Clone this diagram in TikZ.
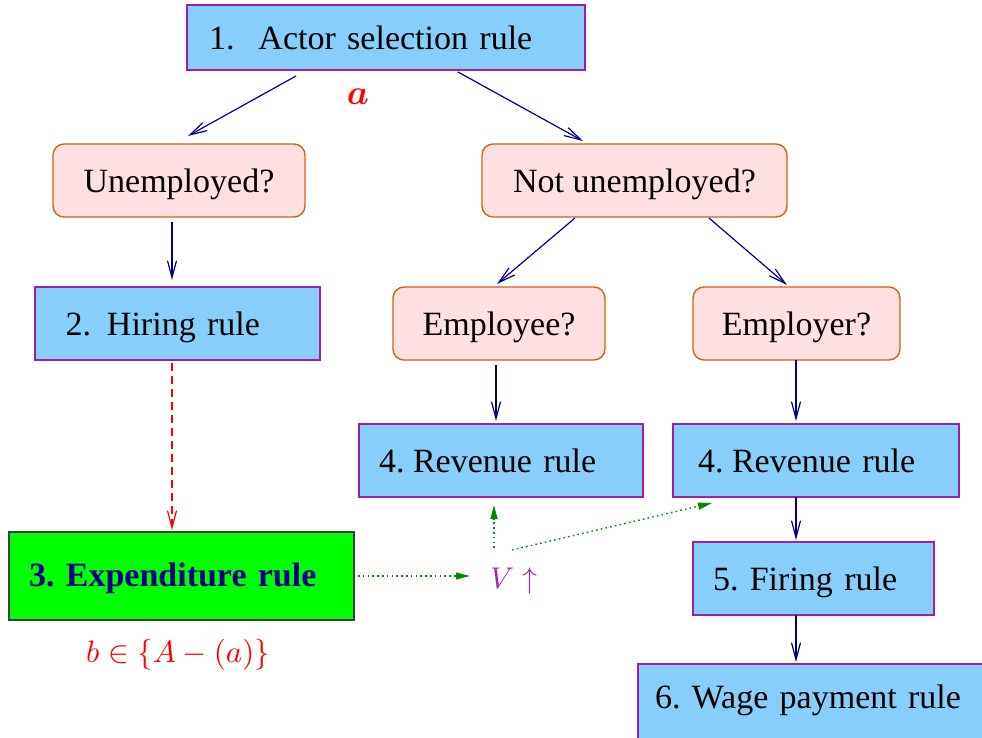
\documentclass[tikz,border=0pt]{standalone}
\usepackage[no-math]{fontspec}
\setmainfont{Liberation Serif}
\usepackage{amsmath}
\DeclareFontFamily{OT1}{cmr}{\hyphenchar\font45 }
\DeclareFontShape{OT1}{cmr}{m}{n}{<->cmr10}{}
\DeclareFontShape{OT1}{cmr}{bx}{n}{<->cmbx10}{}
\DeclareFontShape{OML}{cmm}{m}{it}{<->cmmi10}{}
\DeclareFontShape{OML}{cmm}{b}{it}{<->cmmib10}{}
\DeclareFontShape{OMS}{cmsy}{m}{n}{<->cmsy10}{}
\DeclareFontShape{OMS}{cmsy}{b}{n}{<->cmbsy10}{}
\DeclareFontShape{OMX}{cmex}{m}{n}{<->cmex10}{}
\usetikzlibrary{arrows.meta,calc}
\definecolor{boxblue}{RGB}{135,206,250}
\definecolor{boxborder}{RGB}{160,32,160}
\definecolor{qfill}{RGB}{255,224,226}
\definecolor{qborder}{RGB}{204,102,20}
\definecolor{arrblue}{RGB}{0,0,140}
\definecolor{expgreen}{RGB}{0,255,0}
\definecolor{dotgreen}{RGB}{0,140,0}
\definecolor{vpurple}{RGB}{170,40,170}
\frenchspacing
\begin{document}
\begin{tikzpicture}[x=1pt,y=-1pt,
  bigtext/.style={font=\fontsize{34}{40}\selectfont},
  rulebox/.style={bigtext, draw=boxborder, fill=boxblue, line width=1.4pt, align=left,
    anchor=north west, outer sep=0pt, inner ysep=0pt, text height=24pt, text depth=0pt},
  qbox/.style={bigtext, draw=qborder, fill=qfill, line width=1.4pt, rounded corners=11pt,
    anchor=north west, outer sep=0pt, inner sep=0pt, align=center, text height=24pt, text depth=0pt},
  arr/.style={draw=arrblue, line width=1.2pt, -{Straight Barb[length=17pt,width=9pt]}},
  dashedarr/.style={draw=red, line width=1.2pt, dash pattern=on 8pt off 5pt,
    -{Straight Barb[length=17pt,width=9pt]}},
  dotarr/.style={draw=dotgreen, line width=1.4pt, dash pattern=on 1.6pt off 3.2pt,
    -{Triangle[length=14pt,width=7pt]}}
]
\clip (0,0) rectangle (982,738);

% rule boxes
\node[rulebox, text width=354pt, inner xsep=22pt, minimum height=65pt] (actor) at (187,5)
  {1.\hspace{24pt}Actor selection rule};
\node[qbox, minimum width=252pt, minimum height=73pt] (unemp) at (53,144) {Unemployed?};
\node[qbox, minimum width=305pt, minimum height=73pt] (notunemp) at (482,144) {Not unemployed?};
\node[rulebox, text width=224pt, inner xsep=30.5pt, minimum height=73pt] (hiring) at (35,287)
  {2.\hspace{16pt}Hiring rule};
\node[qbox, minimum width=212pt, minimum height=73pt] (employee) at (393,287) {Employee?};
\node[qbox, minimum width=207pt, minimum height=73pt] (employer) at (693,287) {Employer?};
\node[rulebox, text width=244pt, inner xsep=20pt, minimum height=73pt] (revL) at (359,424)
  {4.\hspace{8.5pt}Revenue rule};
\node[rulebox, text width=236pt, inner xsep=25pt, minimum height=73pt] (revR) at (673,424)
  {4.\hspace{8.5pt}Revenue rule};
\node[rulebox, draw=black!75, fill=expgreen, text=arrblue, font=\fontsize{34}{40}\selectfont\bfseries,
  text width=305pt, inner xsep=20pt, minimum height=88pt, text height=20pt] (exp) at (9,532)
  {3. Expenditure rule};
\node[rulebox, text width=201pt, inner xsep=20pt, minimum height=73pt] (firing) at (693,542)
  {5. Firing rule};
\node[rulebox, text width=326pt, inner xsep=17pt, minimum height=90pt,
  text height=12pt, text depth=14pt] (wage) at (638,664)
  {6. Wage payment rule};

% labels
\node[text=red, font=\fontsize{35}{42}\selectfont] (alabel) at (358,97) {$\boldsymbol{a}$};
\node[text=red, font=\fontsize{31}{37}\selectfont] (blabel) at (178,655) {$b\in\{A-(a)\}$};
\node[text=vpurple, font=\fontsize{30}{36}\selectfont, anchor=base west, inner sep=0pt]
  (V) at (490,588) {$V\uparrow$};

% connectors
\draw[arr] ([xshift=109pt,yshift=-6pt]actor.south west) -- ([xshift=135pt,yshift=8pt]unemp.north west);
\draw[arr] ([xshift=271pt,yshift=-2pt]actor.south west) -- ([xshift=101pt,yshift=3pt]notunemp.north west);
\draw[arr] ([xshift=119pt,yshift=-5pt]unemp.south west) -- ([xshift=137pt,yshift=7pt]hiring.north west);
\draw[arr] ([xshift=93pt,yshift=-1pt]notunemp.south west) -- ([xshift=104pt,yshift=3pt]employee.north west);
\draw[arr] ([xshift=227pt,yshift=-1pt]notunemp.south west) -- ([xshift=94pt,yshift=2pt]employer.north west);
\draw[arr] ([xshift=103pt,yshift=-5pt]employee.south west) -- ([xshift=137pt,yshift=3pt]revL.north west);
\draw[arr] ([xshift=103pt]employer.south west) -- ([xshift=123pt,yshift=3pt]revR.north west);
\draw[arr] ([xshift=123pt]revR.south west) -- ([xshift=103pt,yshift=2pt]firing.north west);
\draw[arr] ([xshift=103pt]firing.south west) -- ([xshift=158pt,yshift=2pt]wage.north west);
\draw[dashedarr] ([xshift=137pt,yshift=-3pt]hiring.south west) -- ([xshift=163pt,yshift=2pt]exp.north west);
\draw[dotarr] ([xshift=4pt]exp.east) -- ($(V.west |- exp.east)+(-20,0)$);
\draw[dotarr] ([xshift=4pt,yshift=19pt]V.north west) -- ([xshift=135pt,yshift=-8pt]revL.south west);
\draw[dotarr] ([xshift=22pt,yshift=17pt]V.north west) -- ([xshift=39pt,yshift=-6pt]revR.south west);
\end{tikzpicture}
\end{document}
